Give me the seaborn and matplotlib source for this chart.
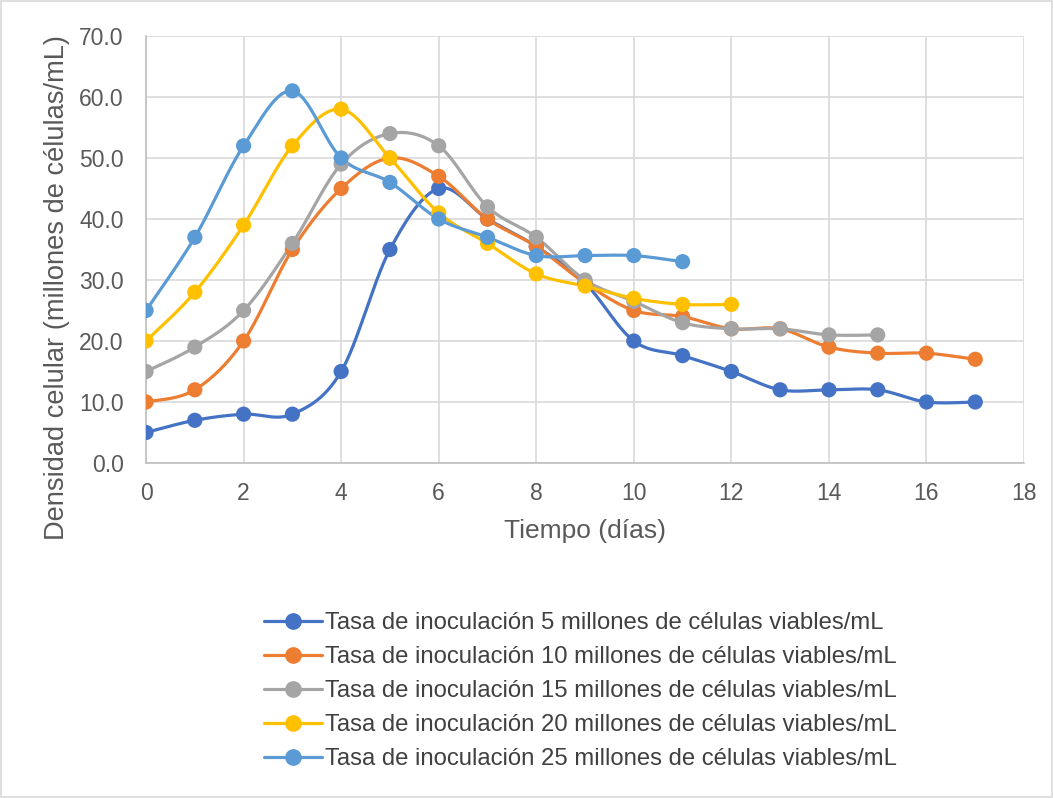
import numpy as np
import pandas as pd
import seaborn as sns
import matplotlib.pyplot as plt
from matplotlib.lines import Line2D
from matplotlib.patches import Rectangle

# datos (densidad celular por dia)
dias_5 = list(range(18))
serie_5 = [5, 7, 8, 8, 15, 35, 45, 40, 35.5, 29.5, 20, 17.6, 15, 12, 12, 12, 10, 10]
dias_10 = list(range(18))
serie_10 = [10, 12, 20, 35, 45, 50, 47, 40, 35.5, 29.5, 25, 24, 22, 22, 19, 18, 18, 17]
dias_15 = list(range(16))
serie_15 = [15, 19, 25, 36, 49, 54, 52, 42, 37, 30, 26.5, 23, 22, 22, 21, 21]
dias_20 = list(range(13))
serie_20 = [20, 28, 39, 52, 58, 50, 41, 36, 31, 29, 27, 26, 26]
dias_25 = list(range(12))
serie_25 = [25, 37, 52, 61, 50, 46, 40, 37, 34, 34, 34, 33]

etiquetas = ['Tasa de inoculación 5 millones de células viables/mL',
             'Tasa de inoculación 10 millones de células viables/mL',
             'Tasa de inoculación 15 millones de células viables/mL',
             'Tasa de inoculación 20 millones de células viables/mL',
             'Tasa de inoculación 25 millones de células viables/mL']
colores = ['#4472C4', '#ED7D31', '#A5A5A5', '#FFC000', '#5B9BD5']

series = [(dias_5, serie_5), (dias_10, serie_10), (dias_15, serie_15),
          (dias_20, serie_20), (dias_25, serie_25)]


# suavizado tipo excel (bezier / catmull-rom)
def suavizar(x, y, n=30):
    p = np.column_stack([x, y]).astype(float)
    p = np.vstack([p[0], p, p[-1]])
    out = []
    for i in range(1, len(p) - 2):
        p0, p1, p2, p3 = p[i - 1], p[i], p[i + 1], p[i + 2]
        c1 = p1 + (p2 - p0) / 6
        c2 = p2 - (p3 - p1) / 6
        t = np.linspace(0, 1, n)[:, None]
        b = ((1 - t) ** 3) * p1 + 3 * ((1 - t) ** 2) * t * c1 + 3 * (1 - t) * t ** 2 * c2 + t ** 3 * p2
        out.append(b if i == 1 else b[1:])
    return np.vstack(out)


filas = []
puntos = []
for k, (d, v) in enumerate(series):
    curva = suavizar(d, v)
    for j, (cx, cy) in enumerate(curva):
        filas.append({'serie': etiquetas[k], 'x': cx, 'y': cy, 'orden': j})
    for xx, yy in zip(d, v):
        puntos.append({'serie': etiquetas[k], 'dia': xx, 'densidad': yy})
df_curva = pd.DataFrame(filas)
df_puntos = pd.DataFrame(puntos)

sns.set_style('white')
plt.rcParams['font.family'] = ['Liberation Sans', 'DejaVu Sans']

fig = plt.figure(figsize=(10.53, 7.98), dpi=100)
ax = fig.add_axes([0.1387, 0.4198, 0.8338, 0.5351])

paleta = dict(zip(etiquetas, colores))
sns.lineplot(data=df_curva, x='x', y='y', hue='serie', units='serie', estimator=None,
             sort=False, palette=paleta, linewidth=2.3, legend=False, ax=ax)
sns.scatterplot(data=df_puntos, x='dia', y='densidad', hue='serie', palette=paleta,
                s=120, edgecolor='none', legend=False, ax=ax, zorder=3)

ax.set_xlim(0, 18)
ax.set_ylim(0, 70)
ax.set_xticks(range(0, 19, 2))
ax.set_yticks(range(0, 71, 10))
ax.set_yticklabels([f'{v:.1f}' for v in range(0, 71, 10)])
ax.grid(True, color='#D9D9D9', linewidth=1.2)
ax.set_axisbelow(True)
for lado in ['top', 'right']:
    ax.spines[lado].set_visible(False)
for lado in ['left', 'bottom']:
    ax.spines[lado].set_color('#BFBFBF')
    ax.spines[lado].set_linewidth(1.2)
ax.tick_params(axis='x', labelsize=16.5, colors='#595959', length=0, pad=14)
ax.tick_params(axis='y', labelsize=16.5, colors='#595959', length=0, pad=16)
ax.set_xlabel('Tiempo (días)', fontsize=19, color='#595959', labelpad=10)
ax.set_ylabel('Densidad celular (millones de células/mL)', fontsize=19.6, color='#595959')
ax.yaxis.set_label_coords(-0.087, 0.41)

manijas = [Line2D([0], [0], color=c, linewidth=2.3, marker='o', markersize=11) for c in colores]
fig.legend(manijas, etiquetas, loc='center', bbox_to_anchor=(0.551, 0.134), frameon=False,
           fontsize=17.2, labelcolor='#404040', handlelength=2.45, handletextpad=0.12,
           labelspacing=0.5)

fig.patches.append(Rectangle((0.001, 0.001), 0.998, 0.998, transform=fig.transFigure,
                             fill=False, edgecolor='#D9D9D9', linewidth=1.2))

plt.savefig('out.png', dpi=100)
